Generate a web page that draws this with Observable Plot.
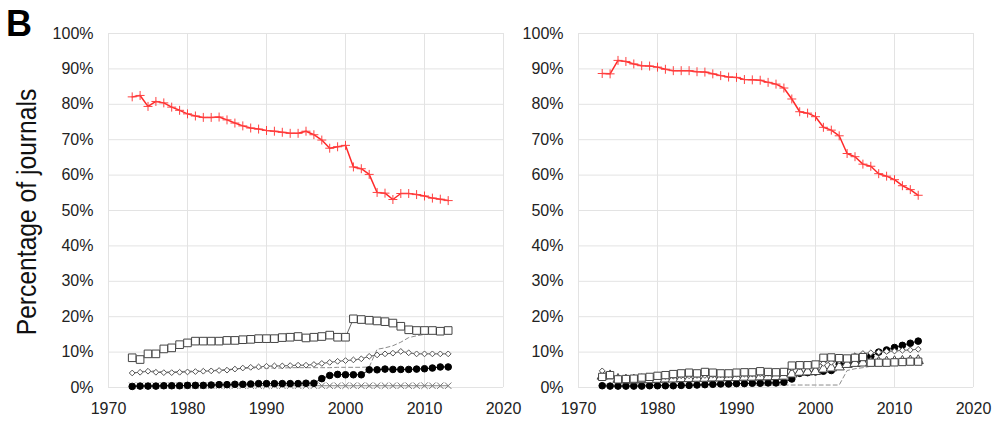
<!DOCTYPE html>
<html>
<head>
<meta charset="utf-8">
<script src="https://cdn.jsdelivr.net/npm/d3@7"></script>
<script src="https://cdn.jsdelivr.net/npm/@observablehq/plot@0.6"></script>
<style>
  html, body { margin: 0; padding: 0; background: #fff; }
  #wrap { position: relative; width: 999px; height: 427px; overflow: hidden; font-family: "Liberation Sans", Arial, sans-serif; }
  #left, #right { position: absolute; top: 0; }
  #left { left: 0; }
  #right { left: 510px; }
  #panel { position: absolute; left: 6px; top: 3px; font-size: 36px; font-weight: bold; color: #000; }
  #ytitle { position: absolute; left: 27px; top: 212px; transform: translate(-50%, -50%) rotate(-90deg) scale(0.88, 1); white-space: nowrap; font-size: 28px; color: #111; }
</style>
</head>
<body>
<div id="wrap">
  <div id="left"></div>
  <div id="right"></div>
  <div id="panel">B</div>
  <div id="ytitle">Percentage of journals</div>
</div>
<script>
// ---- data ----
const years = d3.range(1973, 2014);
const xTicks = [1970, 1980, 1990, 2000, 2010, 2020];
const yTicks = [0, 10, 20, 30, 40, 50, 60, 70, 80, 90, 100];

const leftRed = [82.1,82.5,79.4,80.8,80.4,79.2,78.3,77.3,76.7,76.3,76.3,76.4,75.6,74.7,73.9,73.3,73.0,72.6,72.4,72.1,71.8,71.8,72.4,71.4,69.9,67.6,68.0,68.4,62.3,61.8,60.2,55.1,54.9,53.1,54.8,54.8,54.5,54.1,53.5,53.2,52.8];
const leftSquare = [8.4,7.9,9.5,9.5,10.9,11.2,12.1,12.6,13.1,13.1,13.1,13.1,13.3,13.3,13.5,13.6,13.8,13.8,13.8,14.1,14.2,14.4,14.0,14.2,14.4,14.8,14.2,14.2,19.4,19.2,19.0,18.8,18.6,18.2,17.3,16.3,16.1,16.1,16.1,15.9,16.1];
const leftDiamond = [4.1,4.3,4.6,4.3,4.2,4.2,4.3,4.4,4.5,4.6,4.7,4.8,4.9,5.2,5.5,5.7,5.8,6.0,6.1,6.1,6.2,6.3,6.3,6.5,6.8,7.1,7.4,7.6,7.8,8.1,8.8,9.2,9.5,9.7,10.2,9.8,9.5,9.5,9.5,9.5,9.5];
const leftCircle = [0.3,0.4,0.4,0.4,0.5,0.5,0.5,0.6,0.6,0.6,0.7,0.8,0.8,0.9,0.9,1.0,1.1,1.1,1.1,1.1,1.1,1.1,1.2,1.2,2.5,3.4,3.7,3.6,3.6,3.6,5.0,5.0,5.2,5.1,5.1,5.1,5.2,5.3,5.5,5.8,5.8];
const leftCross = [0.5,0.5,0.5,0.5,0.5,0.5,0.5,0.5,0.5,0.5,0.5,0.5,0.5,0.5,0.5,0.5,0.5,0.5,0.5,0.5,0.5,0.5,0.5,0.5,0.5,0.5,0.5,0.5,0.5,0.5,0.5,0.5,0.5,0.5,0.5,0.5,0.5,0.5,0.5,0.5,0.5];
const leftDashed = [4.0,4.4,4.9,4.6,4.4,4.4,4.5,4.6,4.7,4.8,4.9,5.0,5.1,5.2,5.4,5.5,5.5,5.5,5.5,5.5,5.6,5.6,5.6,5.6,5.6,5.6,5.7,5.7,5.7,5.7,5.8,10.8,11.2,11.8,12.8,14.1,14.6,15.0,15.3,15.6,15.9];

const rightRed = [88.7,88.6,92.4,92.1,91.4,90.9,90.8,90.5,89.9,89.5,89.5,89.5,89.2,89.1,88.6,88.1,87.7,87.6,87.0,86.9,86.8,86.2,85.7,84.6,81.5,77.9,77.5,76.5,73.5,72.7,71.1,66.1,65.2,63.1,62.5,60.4,59.7,58.7,57.0,55.9,54.3];
const rightCircle = [0.5,0.4,0.4,0.4,0.4,0.4,0.5,0.5,0.5,0.5,0.6,0.6,0.7,0.8,0.9,1.0,1.0,1.1,1.1,1.2,1.2,1.3,1.3,1.5,2.4,4.0,4.2,4.4,4.6,4.8,6.6,6.8,7.0,7.6,8.8,10.0,10.6,11.3,11.9,12.5,13.1];
const rightSquare = [3.0,3.5,2.3,2.4,2.5,2.8,3.0,3.3,3.5,3.8,4.0,4.2,4.0,4.4,4.2,4.0,4.0,4.2,4.3,4.3,4.6,4.4,4.3,4.4,6.2,6.3,6.3,6.5,8.4,8.5,8.3,8.2,8.4,8.6,7.0,7.0,7.0,7.1,7.2,7.3,7.3];
const rightDiamond = [4.7,3.8,2.8,2.8,2.9,3.0,3.0,3.1,3.1,3.2,3.3,3.3,3.4,3.4,3.5,3.6,3.6,3.7,3.8,3.8,3.9,4.0,4.1,4.3,5.5,5.8,6.0,6.3,6.8,7.1,7.5,8.0,9.0,9.6,9.8,10.0,10.2,10.3,10.5,10.6,10.8];
const rightTriangle = [3.2,3.3,2.3,2.1,2.1,2.2,2.2,2.3,2.4,2.4,2.5,2.5,2.6,2.6,2.7,2.7,2.8,2.8,2.9,2.9,3.0,3.0,3.1,3.2,3.8,4.3,4.4,4.5,5.2,5.5,5.8,6.5,6.8,6.9,7.0,7.1,7.2,7.3,7.4,7.5,7.6];
const rightDashed = [1.0,0.9,0.8,0.7,0.7,0.7,0.7,0.7,0.7,0.7,0.7,0.7,0.7,0.7,0.7,0.7,0.7,0.7,0.7,0.7,0.7,0.7,0.7,0.7,0.7,0.7,0.7,0.7,0.7,0.7,0.7,4.8,5.3,5.6,6.0,6.3,6.5,6.7,6.8,6.9,7.0];

// ---- helpers ----
const rows = (vals) => years.map((y, i) => ({year: y, v: vals[i]}));

function panel(series, width, mL, mR) {
  const marks = [
    Plot.gridX(xTicks, {stroke: "#e3e3e3", strokeOpacity: 1, strokeWidth: 1}),
    Plot.gridY(yTicks, {stroke: "#e3e3e3", strokeOpacity: 1, strokeWidth: 1}),
    Plot.axisX({ticks: xTicks, tickFormat: d => String(d), tickSize: 0, tickPadding: 15, label: null, fill: "#222"}),
    Plot.axisY({ticks: yTicks, tickFormat: d => d + "%", tickSize: 0, tickPadding: 15, label: null, fill: "#222"})
  ];
  for (const s of series) {
    const data = rows(s.vals);
    marks.push(Plot.line(data, {x: "year", y: "v", stroke: s.line, strokeWidth: s.lw || 1, strokeDasharray: s.dash || null}));
    if (s.symbol) {
      marks.push(Plot.dot(data, {x: "year", y: "v", symbol: s.symbol, r: s.r, stroke: s.stroke, fill: s.fill, strokeWidth: s.sw || 1}));
    }
  }
  return Plot.plot({
    width, height: 427,
    marginLeft: mL, marginRight: mR, marginTop: 33, marginBottom: 40,
    x: {domain: [1970, 2020]},
    y: {domain: [0, 100]},
    style: {fontFamily: "'Liberation Sans', Arial, sans-serif", fontSize: "16px", background: "transparent", overflow: "visible"},
    marks
  });
}

const leftSeries = [
  {vals: leftDashed, line: "#8c8c8c", dash: "4,3"},
  {vals: leftCross, line: "#888", symbol: "times", r: 3, stroke: "#777", fill: "none"},
  {vals: leftCircle, line: "#111", symbol: "circle", r: 3.3, stroke: "#000", fill: "#000"},
  {vals: leftDiamond, line: "#666", symbol: "diamond2", r: 2.6, stroke: "#555", fill: "white"},
  {vals: leftSquare, line: "#666", symbol: "square", r: 4.3, stroke: "#444", fill: "white"},
  {vals: leftRed, line: "#ff2a2a", lw: 1.5, symbol: "plus", r: 3, stroke: "#ff4040", fill: "none"}
];
const rightSeries = [
  {vals: rightDashed, line: "#8c8c8c", dash: "4,3"},
  {vals: rightCircle, line: "#111", symbol: "circle", r: 3.3, stroke: "#000", fill: "#000"},
  {vals: rightTriangle, line: "#777", symbol: "triangle", r: 3.8, stroke: "#444", fill: "white"},
  {vals: rightDiamond, line: "#666", symbol: "diamond2", r: 2.6, stroke: "#555", fill: "white"},
  {vals: rightSquare, line: "#666", symbol: "square", r: 4.1, stroke: "#444", fill: "white"},
  {vals: rightRed, line: "#ff2a2a", lw: 1.5, symbol: "plus", r: 3, stroke: "#ff4040", fill: "none"}
];

document.getElementById("left").appendChild(panel(leftSeries, 510, 108, 7));
document.getElementById("right").appendChild(panel(rightSeries, 489, 68, 26));
</script>
</body>
</html>
